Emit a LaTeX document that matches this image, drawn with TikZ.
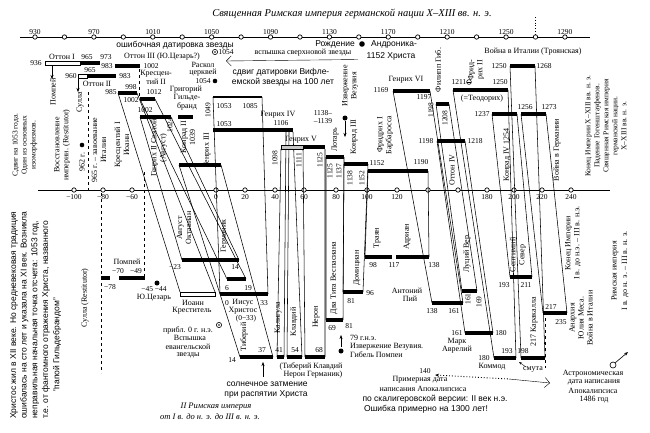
\documentclass[tikz,border=0pt]{standalone}
\usepackage{fontspec}
\setmainfont{Liberation Serif}
\setsansfont{Liberation Sans}
\usetikzlibrary{arrows.meta}
\newcommand\myfs{\fontsize{8}{9}\selectfont}
\newcommand\myfn{\fontsize{7.5}{8.5}\selectfont}
\newcommand\myss{\sffamily\fontsize{8.5}{10}\selectfont}
\newcommand\conn[6]{\draw[cn] (#1,#3)--(#4,#6) (#2,#3)--(#5,#6);}
\newcommand\mybar[3]{\draw[bar] (#1,#3)--(#2,#3);}
\begin{document}
\begin{tikzpicture}[x=1pt,y=-1pt,
  ax/.style={line width=1pt},
  tk/.style={circle,draw,fill=white,inner sep=0pt,minimum size=4.4pt,line width=0.7pt},
  bar/.style={line width=4.8pt},
  wb/.style={draw,fill=white,line width=0.6pt},
  cn/.style={line width=0.55pt},
  t/.style={font=\myfs,inner sep=0pt},
  n/.style={font=\myfn,inner sep=0pt},
  s/.style={font=\myss,inner sep=0pt},
  v/.style={t,rotate=90},
  vn/.style={n,rotate=90},
  vs/.style={s,rotate=90}]
\useasboundingbox (0,0) rectangle (650,432);
\fill[white] (0,0) rectangle (650,432);

% ---------- title and axes
\node[font=\fontsize{10.5}{11}\selectfont\itshape,inner sep=0pt] (title) at (352,14) {Священная Римская империя германской нации X–XIII вв. н. э.};
\draw[dotted,line width=0.8pt] (535,17)--(535,34);
\draw[ax] (20,37)--(590,37);
\foreach \yr in {930,950,...,1290}{\node[tk] at ({35+(\yr-930)*1.472},37) {};}
\foreach \yr in {930,970,...,1290}{\node[n,anchor=south] at ({35+(\yr-930)*1.472},34.5) {\yr};}
\draw[ax] (38,190)--(610,190);
\foreach \xx/\lb in {74/−100,103/−80,132/−60,216/0,245/20,275/40,304/60,336/80,367/100,397/120,428/,458/,487/180,514/200,542/220,571/240}{\node[tk] at (\xx,190) {}; \node[n,anchor=north] at (\xx,194) {\lb};}

% ---------- connectors (top reigns to bottom reigns)
\conn{118}{137}{93}{180}{215}{292}
\conn{140}{171}{117}{182}{239}{260}
\conn{140}{155}{99}{227}{246}{279}
\conn{213}{262}{97}{220}{268}{294}
\conn{179}{221}{165}{240}{273}{357}
\draw[cn] (281,149)--(277,357) (286,132)--(284,357) (289,132)--(287,357) (293,132)--(302,357) (303,149)--(305,357) (325,149)--(325,357);
\conn{326}{344}{157}{326}{343}{320}
\conn{344}{368}{164}{343}{363}{292}
\conn{368}{428}{171}{365}{429}{257}
\conn{393}{430}{91}{432}{463}{303}
\conn{436}{449}{104}{462}{477}{291}
\conn{437}{465}{141}{465}{493}{333}
\conn{453}{508}{90}{494}{516}{358}
\conn{492}{517}{114}{510}{532}{277}
\conn{510}{535}{66}{521}{545}{358}
\conn{521}{546}{114}{543}{567}{313}

% ---------- top area
\node[t] at (62,57) {Оттон I};
\node[n] at (87,57) {965};
\node[n] at (106,57) {973};
\node[t] at (162,57) {Оттон III (Ю.Цезарь?)};
\node[n] at (36,63) {936};
\draw[wb] (45,60.8) rectangle (80,65.2);
\mybar{80}{100}{63}
\node[n] at (107,66) {983};
\mybar{115}{140}{66}
\node[n] at (151,66) {1002};
\node[t] at (156,74) {Кресцен-};
\node[t] at (156,82) {тий II};
\node[n] at (90,70) {965};
\node[n] at (71,76) {960};
\draw[wb] (78,73.8) rectangle (87,78.2);
\mybar{87}{116}{76}
\node[n] at (125,76) {983};
\node[t] at (97,84) {Оттон II};
\node[n] at (111,92) {985};
\node[n] at (131,87) {998};
\mybar{118}{137}{93}
\node[n] at (154,92) {1012};
\draw[dashed] (139,69)--(139,97);
\node[n] at (131,100) {1002};
\mybar{140}{155}{99}
\draw[-{Stealth[length=4pt]}] (52,66)--(52,79);
\node[v] at (53,92) {Помпей};
\draw[-{Stealth[length=4pt]}] (78,78)--(78,92);
\node[v] at (80,102) {Сулла};
\draw[dashed] (88,92)--(88,190);
\node[t] at (186,90) {Григорий};
\node[t] at (187,98) {Гильде-};
\node[t] at (187,106) {бранд};
\node[n] at (145,110) {1002};
\mybar{140}{171}{117}
\mybar{178}{193}{117}
\node[t] at (203,65) {Раскол};
\node[t] at (203,73) {церквей};
\node[n] at (203,81) {1054};
\fill (215,81) circle (2.3);
\node[s] at (175,45) {ошибочная датировка звезды};
\draw[line width=0.6pt] (215,52) circle (2.6); \fill (215,52) circle (0.8);
\node[n,anchor=west] at (218.5,52) {1054};
\node[t] at (303,53) {вспышка сверхновой звезды};
\node[s] at (335,44) {Рождение};
\fill (362,44) circle (2.8);
\node[s] at (394,44) {Андроника-};
\node[s] at (391,56) {1152 Христа};
\draw[-{Straight Barb[length=5pt]}] (358,59.5)--(226,61);
\node[s] at (281,72) {сдвиг датировки Вифле-};
\node[s] at (283,82) {емской звезды на 100 лет};
\node[vn] at (208,110) {1049};
\draw[line width=2.5pt] (213,97)--(262,97);
\node[n] at (224,106) {1053};
\node[n] at (250,106) {1085};
\node[n] at (224,124) {1053};
\mybar{213}{293}{130}
\node[t] at (278,115) {Генрих IV};
\node[n] at (281,123) {1106};
\node[t] at (301,140) {Генрих V};
\filldraw[fill=gray!45,line width=0.5pt] (281,144.8) rectangle (303,149.2);
\mybar{303}{325}{147}
\node[vn] at (275,158) {1098};
\node[vn] at (299,160) {1111};
\node[vn] at (320,160) {1125};
\mybar{326}{344}{157}
\node[vn] at (330,171) {1125};
\node[vn] at (339,171) {1137};
\node[v] at (335,140) {Лотарь};
\mybar{344}{368}{164}
\node[vn] at (350,178) {1138};
\node[vn] at (362,178) {1152};
\node[v] at (354,137) {Конрад III};
\node[n] at (323,113) {1138–};
\node[n] at (323,121) {–1139};
\fill (345,118) circle (2.5);
\draw[-{Stealth[length=4pt]}] (345,121)--(345,137);
\node[v,align=center] at (350,86) {Извержение\\Везувия};
\node[n] at (377,163) {1152};
\node[n] at (421,162) {1190};
\mybar{368}{428}{171}
\node[v,align=center] at (385,135) {Фридрих I\\Барбаросса};
\node[t] at (406,80) {Генрих VI};
\node[n] at (381,90) {1169};
\node[n] at (424,97) {1197};
\mybar{393}{430}{91}
\node[v] at (438,70) {Филипп Гиб.};
\mybar{436}{449}{104}
\node[vn] at (431,110) {1198};
\node[vn] at (445,118) {1208};
\node[n] at (426,141) {1198};
\node[n] at (475,141) {1218};
\mybar{437}{465}{141}
\node[v] at (452,170) {Оттон IV};
\node[n] at (459,82) {1211};
\draw[line width=0.5pt] (469,82) circle (2.4); \draw[line width=0.5pt] (466.6,82)--(471.4,82);
\node[v,align=center] at (476,70) {Фрид-\\рих II};
\node[n] at (500,82) {1250};
\mybar{453}{508}{90}
\node[t] at (482,99) {(=Теодорих)};
\node[n] at (482,114) {1237};
\mybar{492}{517}{114}
\node[v] at (507,155) {Конрад IV 1254};
\node[n] at (499,66) {1250};
\mybar{510}{535}{66}
\node[n] at (544,66) {1268};
\node[t] at (533,52) {Война в Италии (Троянская)};
\node[n] at (525,107) {1256};
\node[n] at (549,107) {1273};
\mybar{521}{546}{114}
\node[v] at (557,150) {Война в Германии};
\node[v,align=center,font=\fontsize{7.5}{9}\selectfont] at (606,126) {Конец Империи X–XIII вв. н. э.\\Падение Гогенштауфенов.\\Священная Римская империя\\германской нации.\\X–XIII вв. н. э.};

% ---------- left upper rotated notes
\node[v,align=center,font=\fontsize{7.5}{9}\selectfont] at (25,145) {Сдвиг на 1053 года.\\Один из основных\\изоморфизмов.};
\node[v,align=center] at (62,145) {Восстановление\\империи. (Restitutor)};
\fill (82,145) circle (2.3);
\node[v] at (82,162) {962 г.};
\node[v,align=center] at (99,150) {965 г. – завоевание\\Италии};
\node[v,align=center] at (122,145) {Кресцентий I\\Иоанн};
\node[v,align=center] at (159,148) {Генрих II Святой\\(Август)};
\node[vn] at (170,125) {1024};
\node[v,align=center] at (188,137) {Конрад II\\1039};
\node[v] at (207,150) {Генрих III};
\mybar{179}{221}{165}

% ---------- bottom area
\node[t] at (127,262) {Помпей};
\node[n] at (118,271) {−70};
\node[n] at (136,271) {−49};
\mybar{101}{110}{278}
\mybar{119}{145}{278}
\node[n] at (110,287) {−78};
\draw[dashed] (101,193)--(101,373);
\draw[dashed] (144,172)--(144,276);
\fill (157,283) circle (2.5);
\node[n] at (154,289) {−45 −44};
\node[t] at (154,298) {Ю.Цезарь};
\node[v] at (85,298) {Сулла (Restitutor)};
\mybar{182}{239}{260}
\node[n] at (175,267) {−23};
\node[n] at (235,267) {14};
\node[v,align=center] at (184,228) {Август\\Октавиан};
\mybar{227}{246}{279}
\node[n] at (227,288) {6};
\node[n] at (248,288) {19};
\node[v] at (224,236) {Германик};
\draw[wb] (180,291.8) rectangle (215,296.2);
\mybar{220}{268}{294}
\node[t] at (193,303) {Иоанн};
\node[t] at (192,311) {Креститель};
\node[n] at (227,303) {0};
\node[t] at (243,303) {Иисус};
\node[n] at (264,303) {33};
\node[t] at (243,311) {Христос};
\node[n] at (246,319) {(0−33)};
\node[v] at (244,337) {Тиберий};
\node[v] at (278,318) {Калигула};
\node[v] at (294,322) {Клавдий};
\node[v] at (316,317) {Нерон};
\mybar{240}{273}{357}
\mybar{277}{284}{357}
\mybar{287}{302}{357}
\mybar{305}{325}{357}
\node[n] at (232,360) {14};
\node[n] at (262,350) {37};
\node[n] at (279,350) {41};
\node[n] at (295,350) {54};
\node[n] at (319,350) {68};
\node[t] at (311,366) {(Тиберий Клавдий};
\node[t] at (313,375) {Нерон Германик)};
\draw[-{Stealth[length=4pt]}] (263,377)--(263,362);
\node[s] at (267,384) {солнечное затмение};
\node[s] at (266,394) {при распятии Христа};
\node[v] at (334,278) {Два Тита Веспасиана};
\mybar{326}{343}{320}
\node[n] at (332,328) {69};
\node[n] at (349,326) {81};
\mybar{343}{363}{292}
\node[n] at (351,301) {81};
\node[n] at (370,293) {96};
\node[v] at (357,268) {Домициан};
\mybar{365}{392}{257}
\mybar{396}{429}{257}
\node[n] at (373,265) {98};
\node[n] at (394,265) {117};
\node[n] at (434,265) {138};
\node[v] at (377,238) {Траян};
\node[v] at (407,237) {Адриан};
\node[t] at (407,291) {Антоний};
\node[t] at (410,299) {Пий};
\mybar{432}{463}{303}
\node[n] at (432,311) {138};
\node[n] at (454,311) {161};
\mybar{462}{477}{291}
\node[vn] at (468,299) {161};
\node[vn] at (479,302) {169};
\node[v] at (467,254) {Луций Вер};
\mybar{465}{493}{333}
\node[n] at (457,333) {161};
\node[n] at (501,333) {180};
\node[t] at (457,342) {Марк};
\node[t] at (457,350) {Аврелий};
\mybar{494}{516}{358}
\node[n] at (484,358) {180};
\node[n] at (507,351) {193};
\node[t] at (492,367) {Коммод};
\mybar{521}{545}{358}
\node[n] at (523,351) {198};
\node[v] at (534,322) {217 Каракалла};
\node[t] at (533,369) {смута};
\draw[-{Stealth[length=3pt]}] (526,367)--(519,362);
\draw[dashed] (545,318)--(545,368);
\mybar{510}{532}{277}
\node[n] at (504,285) {193};
\node[n] at (526,285) {211};
\node[v,align=center] at (518,255) {Септимий\\Север};
\mybar{543}{567}{313}
\node[n] at (551,307) {217};
\node[n] at (561,322) {235};
\node[v,align=center] at (581,318) {Анархия\\Юлия Меса.\\Война в Италии};
\node[v,align=center] at (573,243) {Конец Империи\\I в. до н.э. – III в. н.э.};
\node[v,align=center,font=\fontsize{8}{10.5}\selectfont] at (620,271) {Римская империя\\I в. до н. э. – III в. н. э.};
\draw[line width=0.6pt] (613,365) circle (3);
\draw[line width=0.6pt,-{Stealth[length=4pt]}] (615.3,362.7)--(628,352);
\node[t] at (593,374) {Астрономическая};
\node[t] at (594,382.5) {дата написания};
\node[t] at (593,391) {Апокалипсиса};
\node[t] at (594,399.5) {1486 год};
\node[t] at (188,330) {прибл. 0 г. н.э.};
\draw[line width=0.6pt] (219,325) circle (2.6); \fill (219,325) circle (0.8);
\node[t] at (190,338) {Вспышка};
\node[t] at (188,347) {евангельской};
\node[t] at (188,355) {звезды};
\node[t,anchor=west] at (350,338) {79 г.н.э.};
\node[t,anchor=west] at (350,347) {Извержение Везувия.};
\node[t,anchor=west] at (350,355) {Гибель Помпеи};
\fill (341,351) circle (2.5);
\draw[-{Stealth[length=4pt]}] (341,347)--(341,335);
\node[n] at (425,371) {140};
\draw[dotted,line width=0.9pt,{Stealth[length=4pt]}-] (435,375)--(509,379);
\draw[-{Straight Barb[length=5pt]}] (509,379)--(550,383);
\node[t] at (420,380) {Примерная дата};
\node[t] at (423,389) {написания Апокалипсиса};
\node[s] at (435,399) {по скалигеровской версии: II век н.э.};
\node[s] at (426,409) {Ошибка примерно на 1300 лет!};
\node[font=\fontsize{8.5}{9}\selectfont\itshape,inner sep=0pt] at (216,407) {II Римская империя};
\node[font=\fontsize{8.5}{9}\selectfont\itshape,inner sep=0pt] at (210,417) {от I в. до н. э. до III в. н. э.};
\node[vs,align=left,anchor=north west,font=\sffamily\fontsize{8.5}{10.7}\selectfont] at (10,419) {Христос жил в XII веке. Но средневековая традиция\\ошибалась на сто лет и указала на XI век. Возникла\\неправильная начальная точка отсчета: 1053 год,\\т.е. от фантомного отражения Христа, названного};
\node[vs] at (57,345) {"папой Гильдебрандом"};
\end{tikzpicture}
\end{document}
